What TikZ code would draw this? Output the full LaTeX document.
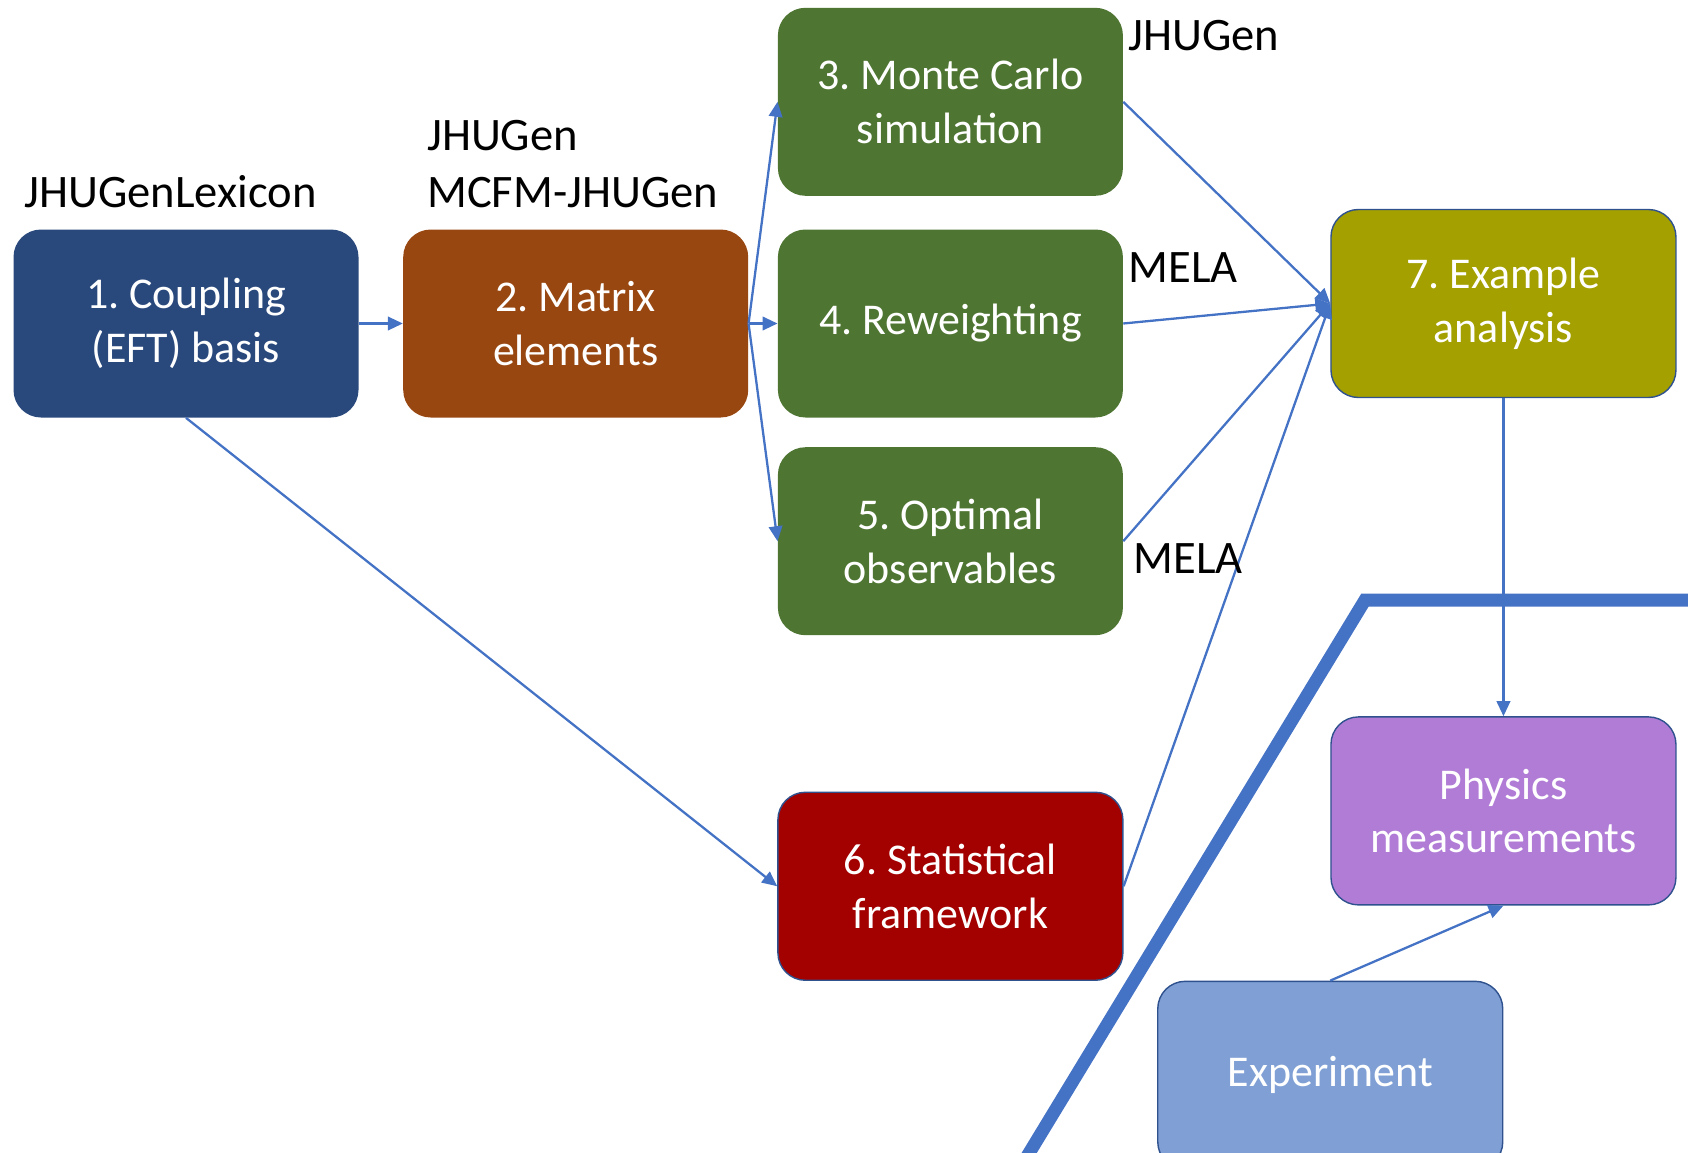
\documentclass[tikz,border=0pt]{standalone}
\usepackage{fontspec}
\setmainfont{Carlito}
\usepackage{tikz}
\usetikzlibrary{arrows.meta, positioning}
\frenchspacing
\definecolor{couplingblue}{RGB}{41,72,124}
\definecolor{mebrown}{RGB}{152,71,17}
\definecolor{simgreen}{RGB}{79,117,50}
\definecolor{statred}{RGB}{163,0,0}
\definecolor{exolive}{RGB}{163,160,0}
\definecolor{physpurple}{RGB}{176,124,214}
\definecolor{expblue}{RGB}{127,159,213}
\definecolor{edgeblue}{RGB}{47,82,143}
\definecolor{lineblue}{RGB}{68,114,196}

\begin{document}
\begin{tikzpicture}[
        node distance=0.6cm,
        stage/.style={rectangle, rounded corners=0.55cm, minimum width=6.9cm, minimum height=3.76cm, align=center, text=white, font=\fontsize{25}{30.7}\selectfont},
        framed/.style={draw=edgeblue, line width=0.8pt},
        tool/.style={inner sep=0pt, font=\fontsize{26.5}{32.4}\selectfont},
        link/.style={-{Triangle[length=0.3cm, width=0.27cm]}, draw=lineblue, line width=1.3pt},
        wall/.style={draw=lineblue, line width=0.26cm, line join=miter}
    ]
    \useasboundingbox (0,0) rectangle (33.76,-23.06);

    % stages
    \node[stage, fill=couplingblue] (coupling) at (3.72,-6.47) {1. Coupling\\(EFT) basis};
    \node[stage, fill=mebrown, right=0.88cm of coupling] (matrix) {2. Matrix\\elements};
    \node[stage, fill=simgreen, right=0.58cm of matrix] (reweight) {4. Reweighting};
    \node[stage, fill=simgreen, above=0.66cm of reweight] (mcsim) {3. Monte Carlo\\simulation};
    \node[stage, fill=simgreen, below=0.58cm of reweight] (optobs) {5. Optimal\\observables};
    \node[stage, framed, fill=statred, below=3.12cm of optobs] (statfw) {6. Statistical\\framework};
    \node[stage, framed, fill=exolive, right=4.14cm of reweight, yshift=0.4cm] (example) {7. Example\\analysis};
    \node[stage, framed, fill=physpurple, below=6.36cm of example] (physics) {Physics\\measurements};
    \node[stage, framed, fill=expblue, below=1.5cm of physics.south west] (experiment) {Experiment};

    % theory / experiment divide
    \draw[wall] (20.34,-23.46) -- (27.3,-12.0) -- (34.0,-12.0);

    % connections
    \draw[link] (coupling) -- (matrix);
    \draw[link] (matrix.east) -- (mcsim.west);
    \draw[link] (matrix.east) -- (reweight.west);
    \draw[link] (matrix.east) -- (optobs.west);
    \draw[link] (coupling.south) -- (statfw.west);
    \draw[link] (mcsim.east) -- (example.west);
    \draw[link] (reweight.east) -- (example.west);
    \draw[link] (optobs.east) -- (example.west);
    \draw[link] (statfw.east) -- (example.west);
    \draw[link] (example) -- (physics);
    \draw[link] (experiment.north) -- (physics.south);

    % tools
    \node[tool, anchor=base west] (lexicon) at ([xshift=0.22cm, yshift=0.44cm]coupling.north west) {JHUGenLexicon};
    \node[tool, anchor=south west, align=left] (megen) at ([xshift=0.48cm, yshift=0.42cm]matrix.north west) {JHUGen\\MCFM-JHUGen};
    \node[tool, anchor=base west] (simgen) at ([xshift=0.1cm, yshift=-0.86cm]mcsim.north east) {JHUGen};
    \node[tool, anchor=base west] (melarw) at ([xshift=0.1cm, yshift=-1.06cm]reweight.north east) {MELA};
    \node[tool, anchor=base west] (melaobs) at ([xshift=0.2cm, yshift=-0.64cm]optobs.east) {MELA};

\end{tikzpicture}
\end{document}
